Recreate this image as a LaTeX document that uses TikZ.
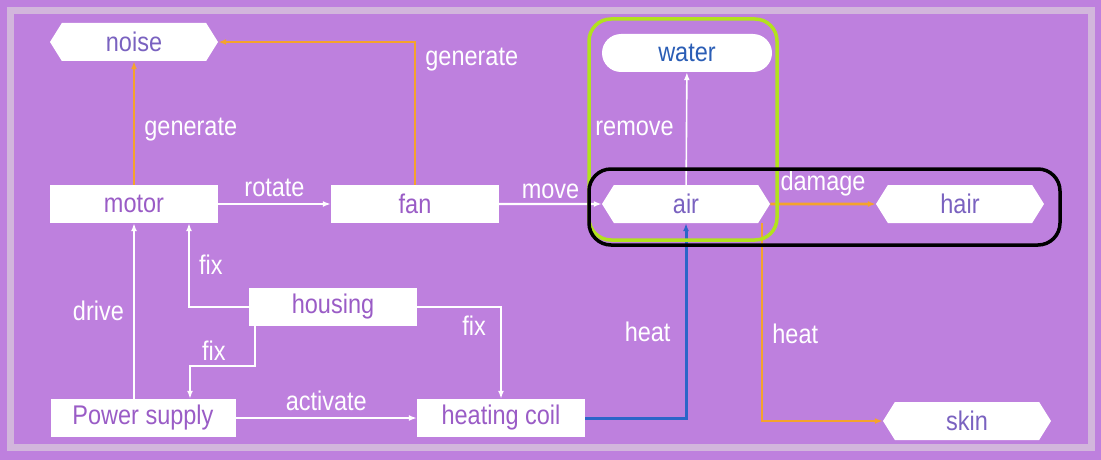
\documentclass[tikz,border=0pt]{standalone}
\usepackage{fontspec}
\setmainfont{Liberation Sans}[FakeStretch=0.87]
\usepackage{tikz}
\usetikzlibrary{arrows.meta,positioning,shapes.symbols}
\definecolor{bgPurple}{HTML}{BE80DE}
\definecolor{framePurple}{HTML}{D2B6DC}
\definecolor{txtPurple}{HTML}{9A5CC6}
\definecolor{txtSlate}{HTML}{7A62C0}
\definecolor{txtBlue}{HTML}{2A5DB5}
\definecolor{hotOrange}{HTML}{F4A32C}
\definecolor{coolBlue}{HTML}{2C65C8}
\definecolor{ringGreen}{HTML}{B2E21E}

\begin{document}
\begin{tikzpicture}[
  x=1pt, y=-1pt,
  font=\fontsize{27}{31}\selectfont,
  box/.style={fill=white, text=txtPurple, inner sep=0pt,
    minimum width=168pt, minimum height=38pt},
  tag/.style={signal, signal to=east and west, signal pointer angle=116,
    fill=white, text=txtSlate, inner sep=0pt,
    minimum width=168pt, minimum height=38pt},
  pill/.style={rectangle, rounded corners=19pt, fill=white, text=txtBlue,
    inner sep=0pt, minimum width=170pt, minimum height=38pt},
  flow/.style={draw=white, line width=2.2pt, -{Latex[length=8pt,width=6pt]}},
  hot/.style={draw=hotOrange, line width=2.8pt, -{Latex[length=8pt,width=6pt]}},
  cool/.style={draw=coolBlue, line width=3pt, -{Latex[length=8pt,width=6pt]}},
  lbl/.style={text=white, inner sep=9pt},
  lblup/.style={text=white, inner sep=6pt},
]
\useasboundingbox (0,0) rectangle (1101,460);
\fill[bgPurple] (0,0) rectangle (1101,460);
\draw[framePurple, line width=7pt] (10.5,10.5) rectangle (1091,447.5);

% things
\node[tag] (noise) at (134,42) {noise};
\node[box] (motor) at (134,204) {motor};
\node[box] (fan) at (415,204) {fan};
\node[tag] (air) at (686,204) {air};
\node[pill] (water) at (687,53) {water};
\node[tag] (hair) at (960,204) {hair};
\node[box] (housing) at (333,307) {housing};
\node[box, minimum width=185pt] (psu) at (143,418) {Power supply};
\node[box] (coil) at (501,418) {heating coil};
\node[tag] (skin) at (967,421) {skin};

% relations
\draw[hot] (motor) -- node[lbl, right, pos=0.45] {generate} (noise);
\draw[hot] (fan) |- node[lbl, right, pos=0.44] {generate} (noise);
\draw[flow] (motor) -- node[lblup, above] {rotate} (fan);
\draw[flow] (fan) -- node[lblup, above, inner sep=4pt] {move} (air);
\draw[flow, line width=1.6pt] (air) -- node[lbl, left, inner sep=12pt] {remove} (water);
\draw[hot] (air) -- node[lblup, above] {damage} (hair);
\draw[hot] ([xshift=76pt]air.south) |- node[lbl, right, pos=0.28] {heat} (skin);
\draw[cool] (coil) -| node[lbl, left, inner sep=14pt, pos=0.72] {heat} (air);
\draw[flow] (psu.north -| motor.south) -- node[lbl, left] {drive} (motor);
\draw[flow] (housing) -| node[lbl, right, pos=0.75] {fix} ([xshift=55pt]motor.south);
\draw[flow] ([xshift=-78pt]housing.south) -- ++(0,40)
  -| node[text=white, inner sep=3pt, anchor=south west, xshift=8pt, yshift=2pt, pos=0.5] {fix} ([xshift=47pt]psu.north);
\draw[flow] (housing) -| node[lbl, left, inner sep=14pt, pos=0.6] {fix} (coil);
\draw[flow] (psu) -- node[lblup, above] {activate} (coil);

% highlight rings
\draw[ringGreen, line width=3.5pt, rounded corners=22pt] (589,19) rectangle (777,240);
\draw[black, line width=3.5pt, rounded corners=22pt] (589,169) rectangle (1060,245);
\end{tikzpicture}
\end{document}
